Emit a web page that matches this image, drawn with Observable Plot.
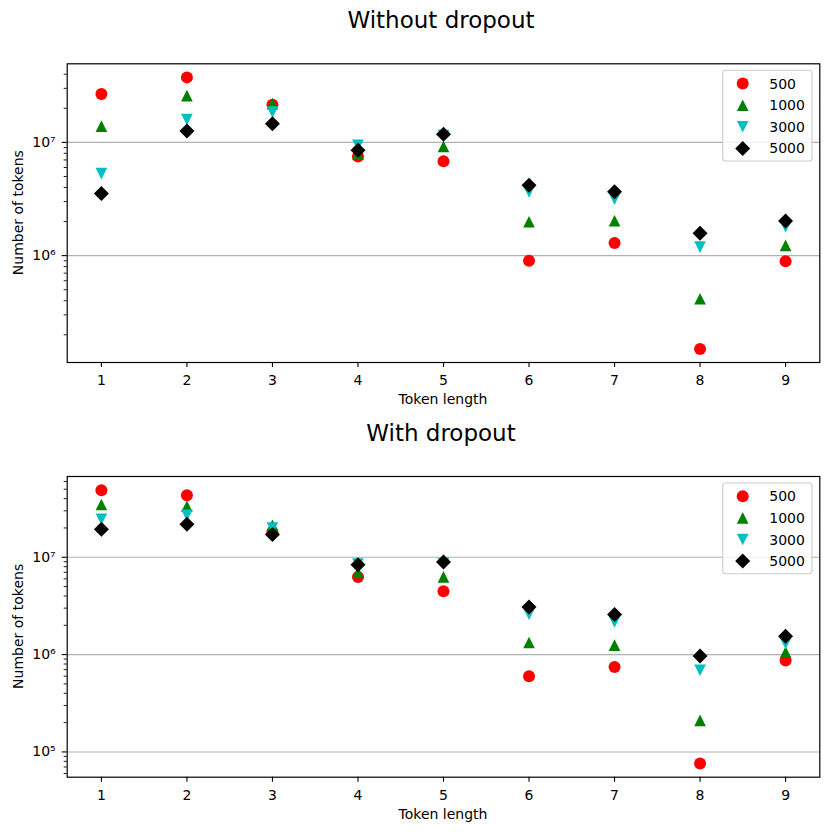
<!DOCTYPE html>
<html><head><meta charset="utf-8">
<script src="https://cdn.jsdelivr.net/npm/d3@7"></script>
<script src="https://cdn.jsdelivr.net/npm/@observablehq/plot@0.6"></script>
<style>
body{margin:0;background:#fff;font-family:"DejaVu Sans",sans-serif;}
#root{position:relative;width:830px;height:832px;overflow:hidden;background:#fff}
#root > svg{position:absolute;left:0}
</style></head><body><div id="root"></div>
<script>
// ---------- data ----------
const tokenLengths = [1, 2, 3, 4, 5, 6, 7, 8, 9];
const vocabSizes = ["500", "1000", "3000", "5000"];
const panelTitles = ["Without dropout", "With dropout"];
const xLabel = "Token length";
const yLabel = "Number of tokens";

const noDropout500  = [2.68e7, 3.75e7, 2.15e7, 7.5e6, 6.8e6, 9.0e5, 1.29e6, 1.5e5, 8.9e5];
const noDropout1000 = [1.39e7, 2.59e7, 2.2e7, 7.9e6, 9.2e6, 1.99e6, 2.03e6, 4.16e5, 1.23e6];
const noDropout3000 = [5.3e6, 1.59e7, 1.85e7, 9.4e6, 1.15e7, 3.66e6, 3.15e6, 1.19e6, 1.8e6];
const noDropout5000 = [3.54e6, 1.26e7, 1.46e7, 8.5e6, 1.18e7, 4.19e6, 3.66e6, 1.58e6, 2.02e6];

const dropout500  = [4.89e7, 4.34e7, 1.82e7, 6.28e6, 4.47e6, 6.0e5, 7.47e5, 7.6e4, 8.7e5];
const dropout1000 = [3.48e7, 3.34e7, 2.13e7, 7.0e6, 6.28e6, 1.33e6, 1.25e6, 2.11e5, 1.06e6];
const dropout3000 = [2.46e7, 2.7e7, 2.0e7, 8.5e6, 8.6e6, 2.6e6, 2.16e6, 6.9e5, 1.3e6];
const dropout5000 = [1.94e7, 2.18e7, 1.71e7, 8.4e6, 8.96e6, 3.08e6, 2.58e6, 9.7e5, 1.54e6];

const colors = ["#ff0000", "#008000", "#00bfbf", "#000000"];

// ---------- symbols (matplotlib o, ^, v, D) ----------
const rad = s => Math.sqrt(s / Math.PI);
const symCircle = {draw(c, s){const r = rad(s); c.moveTo(r, 0); c.arc(0, 0, r, 0, 2 * Math.PI);}};
const symTriUp = {draw(c, s){const r = rad(s) * 0.97; c.moveTo(0, -r); c.lineTo(r, r); c.lineTo(-r, r); c.closePath();}};
const symTriDown = {draw(c, s){const r = rad(s) * 0.97; c.moveTo(0, r); c.lineTo(r, -r); c.lineTo(-r, -r); c.closePath();}};
const symDiamond = {draw(c, s){const r = rad(s) * 1.25; c.moveTo(0, -r); c.lineTo(r, 0); c.lineTo(0, r); c.lineTo(-r, 0); c.closePath();}};
const symbols = [symCircle, symTriUp, symTriDown, symDiamond];

const supDigits = {"0":"⁰","1":"¹","2":"²","3":"³","4":"⁴","5":"⁵","6":"⁶","7":"⁷","8":"⁸","9":"⁹","-":"⁻"};
const sup = v => "10" + String(Math.round(Math.log10(v))).split("").map(ch => supDigits[ch]).join("");

const root = document.getElementById("root");
const W = 830;
const frameLeft = 66.7, frameRight = 819.3;

function panel(series, svgTop, svgHeight, frameTop, frameBottom) {
  const rows = [];
  series.forEach((vals, si) => vals.forEach((v, i) => rows.push({len: tokenLengths[i], n: v, s: vocabSizes[si]})));
  const logs = rows.map(d => Math.log10(d.n));
  const lo = d3.min(logs), hi = d3.max(logs), pad = (hi - lo) * 0.05;
  const domain = [10 ** (lo - pad), 10 ** (hi + pad)];
  const majors = d3.range(Math.ceil(lo - pad), Math.floor(hi + pad) + 1).map(e => 10 ** e);
  const minors = [];
  for (let e = Math.floor(lo - pad); e <= Math.ceil(hi + pad); e++)
    for (let k = 2; k <= 9; k++) {
      const v = k * 10 ** e;
      if (v >= domain[0] && v <= domain[1]) minors.push(v);
    }
  const xPad = (d3.max(tokenLengths) - d3.min(tokenLengths)) * 0.05;
  const chart = Plot.plot({
    width: W,
    height: svgHeight,
    marginTop: frameTop - svgTop,
    marginBottom: svgTop + svgHeight - frameBottom,
    marginLeft: frameLeft,
    marginRight: W - frameRight,
    style: {fontFamily: "DejaVu Sans", fontSize: "14px", color: "#000", background: "transparent", overflow: "visible"},
    x: {type: "linear", domain: [d3.min(tokenLengths) - xPad, d3.max(tokenLengths) + xPad]},
    y: {type: "log", domain},
    marks: [
      Plot.ruleY(majors, {stroke: "#b0b0b0", strokeWidth: 1.1}),
      ...vocabSizes.map((s, si) => Plot.dot(rows.filter(d => d.s === s), {
        x: "len", y: "n", r: 6, symbol: symbols[si], fill: colors[si], stroke: "none"
      })),
      Plot.axisX({ticks: tokenLengths, tickSize: 5, tickPadding: 8, tickFormat: d => String(d), label: null, strokeWidth: 1.1}),
      Plot.axisY({ticks: majors, tickSize: 5, tickPadding: 6.5, tickFormat: sup, label: null, strokeWidth: 1.1}),
      Plot.axisY({ticks: minors, tickSize: 3, tickFormat: () => "", label: null, strokeWidth: 0.9}),
      Plot.frame({stroke: "#000", strokeWidth: 1.2})
    ]
  });
  chart.style.top = svgTop + "px";
  root.appendChild(chart);
}

panel([noDropout500, noDropout1000, noDropout3000, noDropout5000], 0, 400, 63.3, 362);
panel([dropout500, dropout1000, dropout3000, dropout5000], 416, 416, 476, 776.7);

// ---------- titles, axis labels, legends ----------
const ov = d3.create("svg").attr("width", W).attr("height", 832)
  .style("top", "0px").style("font-family", "DejaVu Sans");
const cx = (frameLeft + frameRight) / 2;
const panelsGeo = [{top: 63.3, bottom: 362, titleY: 28.3}, {top: 476, bottom: 776.7, titleY: 441}];
panelsGeo.forEach((g, pi) => {
  ov.append("text").attr("x", cx - 2).attr("y", g.titleY).attr("text-anchor", "middle")
    .attr("font-size", 23).text(panelTitles[pi]);
  ov.append("text").attr("x", cx).attr("y", g.bottom + 42.3).attr("text-anchor", "middle")
    .attr("font-size", 14).text(xLabel);
  ov.append("text").attr("transform", `translate(23.3,${(g.top + g.bottom) / 2}) rotate(-90)`)
    .attr("text-anchor", "middle").attr("font-size", 14).text(yLabel);
  const bx = 722.7, by = g.top + 7, bw = 89.3, bh = 90.7;
  ov.append("rect").attr("x", bx).attr("y", by).attr("width", bw).attr("height", bh)
    .attr("rx", 3).attr("fill", "#fff").attr("fill-opacity", 0.8).attr("stroke", "#cccccc").attr("stroke-width", 1.1);
  vocabSizes.forEach((s, i) => {
    const yy = by + 13.3 + i * 21.6;
    ov.append("path").attr("transform", `translate(742.7,${yy})`)
      .attr("d", d3.symbol(symbols[i], 36 * Math.PI)()).attr("fill", colors[i]);
    ov.append("text").attr("x", 769.3).attr("y", yy).attr("dy", "0.36em")
      .attr("font-size", 14).text(s);
  });
});
root.appendChild(ov.node());
</script>
</body></html>
